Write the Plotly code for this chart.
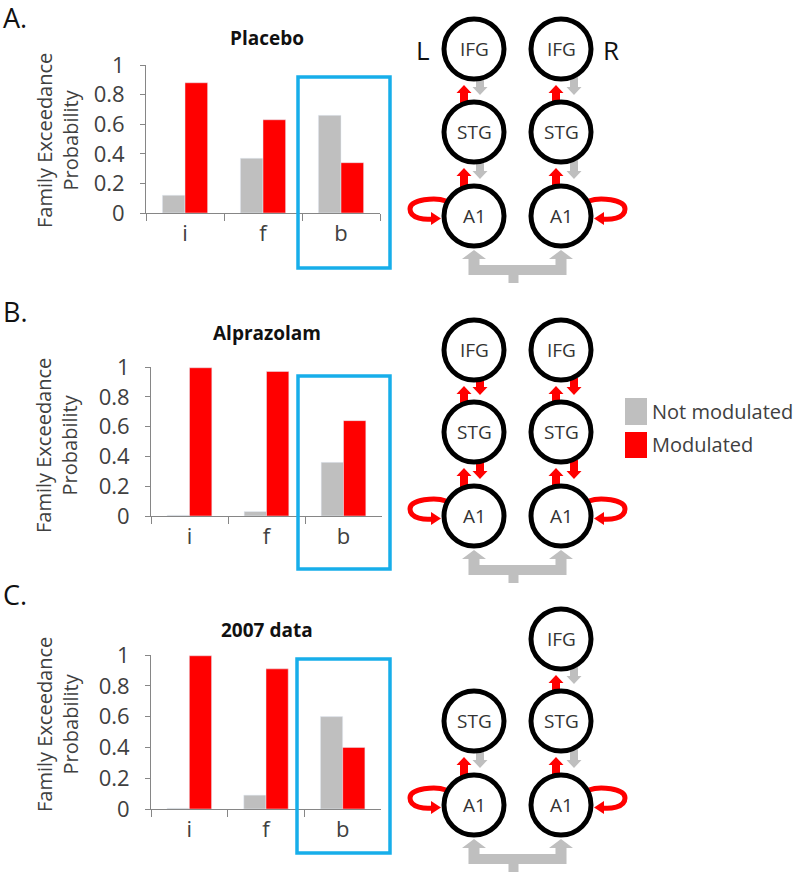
import plotly.graph_objects as go

W, H = 800, 876

# ---- data -------------------------------------------------------------
categories = ["i", "f", "b"]
panel_titles = ["Placebo", "Alprazolam", "2007 data"]
panel_letters = ["A.", "B.", "C."]

placebo_not_mod = [0.12, 0.37, 0.66]
placebo_mod = [0.88, 0.63, 0.34]
alprazolam_not_mod = [0.005, 0.03, 0.36]
alprazolam_mod = [0.995, 0.97, 0.64]
data2007_not_mod = [0.005, 0.09, 0.60]
data2007_mod = [0.995, 0.91, 0.40]

# network diagrams: (lower node, upper node, forward modulated, backward modulated)
placebo_links = {"L": [("A1", "STG", True, False), ("STG", "IFG", True, False)],
                 "R": [("A1", "STG", True, False), ("STG", "IFG", True, False)]}
alprazolam_links = {"L": [("A1", "STG", True, True), ("STG", "IFG", True, True)],
                    "R": [("A1", "STG", True, True), ("STG", "IFG", True, True)]}
data2007_links = {"L": [("A1", "STG", True, False)],
                  "R": [("A1", "STG", True, False), ("STG", "IFG", True, False)]}

placebo_nodes = {"L": ["A1", "STG", "IFG"], "R": ["A1", "STG", "IFG"]}
alprazolam_nodes = {"L": ["A1", "STG", "IFG"], "R": ["A1", "STG", "IFG"]}
data2007_nodes = {"L": ["A1", "STG"], "R": ["A1", "STG", "IFG"]}

GRAY = "#bfbfbf"
RED = "#ff0000"
BLUE = "#17aeea"
AXIS = "#868686"
TXT = "#404040"
FONT = "Open Sans"

panels = [
    dict(not_mod=placebo_not_mod, mod=placebo_mod, links=placebo_links, nodes=placebo_nodes,
         plot=(146, 65, 380, 213), box=(298, 77, 390, 268), letter_y=17, title_y=38,
         ytitle_y=140, rows={"IFG": 49, "STG": 132, "A1": 216}),
    dict(not_mod=alprazolam_not_mod, mod=alprazolam_mod, links=alprazolam_links, nodes=alprazolam_nodes,
         plot=(151, 367, 382, 516), box=(298, 376, 390, 569), letter_y=311, title_y=333,
         ytitle_y=445, rows={"IFG": 350, "STG": 432, "A1": 516}),
    dict(not_mod=data2007_not_mod, mod=data2007_mod, links=data2007_links, nodes=data2007_nodes,
         plot=(151, 655, 381, 809), box=(297, 659, 390, 853), letter_y=594, title_y=630,
         ytitle_y=724, rows={"IFG": 639, "STG": 721, "A1": 805}),
]

COLS = {"L": 474, "R": 561}
ARROW_OFF = {"L": (-10, 6), "R": (-5, 13)}   # (up arrow, down arrow) x offsets
R_NODE = 30


def px(x):
    return x / W


def py(y):
    return 1 - y / H


def pt(x, y):
    return f"{px(x):.5f} {py(y):.5f}"


def poly(points):
    return "M " + " L ".join(pt(x, y) for x, y in points) + " Z"


def up_arrow(x, tail, tip, hw=4, hh=7.5, hl=8):
    return poly([(x - hw, tail), (x - hw, tip + hl), (x - hh, tip + hl), (x, tip),
                 (x + hh, tip + hl), (x + hw, tip + hl), (x + hw, tail)])


def down_arrow(x, tail, tip, hw=4, hh=7.5, hl=8):
    return poly([(x - hw, tail), (x - hw, tip - hl), (x - hh, tip - hl), (x, tip),
                 (x + hh, tip - hl), (x + hw, tip - hl), (x + hw, tail)])


fig = go.Figure()
shapes = []
annotations = []

for k, p in enumerate(panels):
    n = "" if k == 0 else str(k + 1)
    x0, y0, x1, y1 = p["plot"]

    fig.add_trace(go.Bar(x=categories, y=p["not_mod"], marker_color=GRAY, name="Not modulated",
                         xaxis="x" + n, yaxis="y" + n, showlegend=False))
    fig.add_trace(go.Bar(x=categories, y=p["mod"], marker_color=RED, name="Modulated",
                         xaxis="x" + n, yaxis="y" + n, showlegend=False))

    fig.update_layout({
        "xaxis" + n: dict(domain=[px(x0), px(x1)], anchor="y" + n, type="category",
                          showline=True, linecolor=AXIS, linewidth=1, ticks="outside",
                          tickson="boundaries", ticklen=7, tickcolor=AXIS, showgrid=False,
                          tickfont=dict(family=FONT, size=22, color=TXT), ticklabelstandoff=1),
        "yaxis" + n: dict(domain=[py(y1), py(y0)], anchor="x" + n, range=[0, 1], dtick=0.2,
                          showline=True, linecolor=AXIS, linewidth=1, ticks="outside",
                          ticklen=5, tickcolor=AXIS, showgrid=False, zeroline=False,
                          tickfont=dict(family=FONT, size=22, color=TXT), ticklabelstandoff=11),
    })

    # highlight box around "b"
    bx0, by0, bx1, by1 = p["box"]
    shapes.append(dict(type="rect", xref="paper", yref="paper", x0=px(bx0), x1=px(bx1),
                       y0=py(by1), y1=py(by0), line=dict(color=BLUE, width=3.5)))

    annotations += [
        dict(text=panel_letters[k], x=px(1), y=py(p["letter_y"]), xanchor="left", yanchor="middle",
             font=dict(family=FONT, size=27, color="#111111")),
        dict(text="<b>" + panel_titles[k] + "</b>", x=px(267), y=py(p["title_y"]),
             xanchor="center", yanchor="middle", font=dict(family=FONT, size=19, color="#111111")),
        dict(text="Family Exceedance<br>Probability", x=px(57), y=py(p["ytitle_y"]), textangle=-90,
             xanchor="center", yanchor="middle", font=dict(family=FONT, size=20, color=TXT)),
    ]

    # ---- network diagram ----
    rows = p["rows"]
    cy_a1 = rows["A1"]
    xl, xr = COLS["L"], COLS["R"]

    # arrows between regions
    for hemi, links in p["links"].items():
        cx = COLS[hemi]
        off_up, off_dn = ARROW_OFF[hemi]
        for lo, hi, fwd, bwd in links:
            ylo, yhi = rows[lo], rows[hi]
            shapes.append(dict(type="path", xref="paper", yref="paper",
                               path=up_arrow(cx + off_up, ylo - 29, yhi + 36),
                               fillcolor=RED if fwd else GRAY, line=dict(width=0)))
            shapes.append(dict(type="path", xref="paper", yref="paper",
                               path=down_arrow(cx + off_dn, yhi + 28, ylo - 37),
                               fillcolor=RED if bwd else GRAY, line=dict(width=0)))

    # interhemispheric connection (not modulated)
    mid = (xl + xr) / 2 - 4
    c = cy_a1
    bracket = [(xl, c + 34), (xl + 12, c + 43), (xl + 5.5, c + 43), (xl + 5.5, c + 49),
               (xr - 5.5, c + 49), (xr - 5.5, c + 43), (xr - 12, c + 43), (xr, c + 34),
               (xr + 12, c + 43), (xr + 5.5, c + 43), (xr + 5.5, c + 59), (mid + 5, c + 59),
               (mid + 5, c + 67), (mid - 5, c + 67), (mid - 5, c + 59), (xl - 5.5, c + 59),
               (xl - 5.5, c + 43), (xl - 12, c + 43)]
    shapes.append(dict(type="path", xref="paper", yref="paper", path=poly(bracket),
                       fillcolor=GRAY, line=dict(width=0)))

    # A1 self-connections (modulated)
    for hemi, sgn in (("L", 1), ("R", -1)):
        cx = COLS[hemi]

        def X(d):
            return cx - sgn * d

        loop = (f"M {pt(X(28), c - 15)} C {pt(X(38), c - 19)} {pt(X(64), c - 17)} {pt(X(64), c - 7)} "
                f"C {pt(X(64), c + 3)} {pt(X(48), c + 4)} {pt(X(41), c + 3)}")
        shapes.append(dict(type="path", xref="paper", yref="paper", path=loop,
                           line=dict(color=RED, width=5)))
        shapes.append(dict(type="path", xref="paper", yref="paper",
                           path=poly([(X(43), c - 4), (X(33), c + 2.5), (X(43), c + 9)]),
                           fillcolor=RED, line=dict(width=0)))

    # region nodes
    for hemi, names in p["nodes"].items():
        cx = COLS[hemi]
        for name in names:
            cy = rows[name]
            shapes.append(dict(type="circle", xref="paper", yref="paper",
                               x0=px(cx - R_NODE), x1=px(cx + R_NODE),
                               y0=py(cy + R_NODE), y1=py(cy - R_NODE),
                               fillcolor="white", line=dict(color="black", width=5)))
            annotations.append(dict(text=name, x=px(cx), y=py(cy), xanchor="center", yanchor="middle",
                                    font=dict(family=FONT, size=19, color="#333333")))

# hemisphere labels
annotations += [
    dict(text="L", x=px(423), y=py(50), xanchor="center", yanchor="middle",
         font=dict(family=FONT, size=26, color="#111111")),
    dict(text="R", x=px(611), y=py(50), xanchor="center", yanchor="middle",
         font=dict(family=FONT, size=26, color="#111111")),
]

# legend
legend_items = [("Not modulated", GRAY, 398, 425), ("Modulated", RED, 432, 458)]
for label, color, ly0, ly1 in legend_items:
    shapes.append(dict(type="rect", xref="paper", yref="paper", x0=px(625), x1=px(647),
                       y0=py(ly1), y1=py(ly0), fillcolor=color, line=dict(width=0)))
    annotations.append(dict(text=label, x=px(650), y=py((ly0 + ly1) / 2), xanchor="left",
                            yanchor="middle", font=dict(family=FONT, size=20, color=TXT)))

for a in annotations:
    a.update(xref="paper", yref="paper", showarrow=False)

fig.update_layout(
    width=W, height=H, autosize=False,
    margin=dict(l=0, r=0, t=0, b=0, pad=0, autoexpand=False),
    paper_bgcolor="white", plot_bgcolor="rgba(0,0,0,0)",
    barmode="group", bargap=0.42, bargroupgap=0,
    shapes=shapes, annotations=annotations,
    font=dict(family=FONT),
)

fig.write_html("out.html", config={"displayModeBar": False},
               post_script="document.body.style.margin = '0px';")
